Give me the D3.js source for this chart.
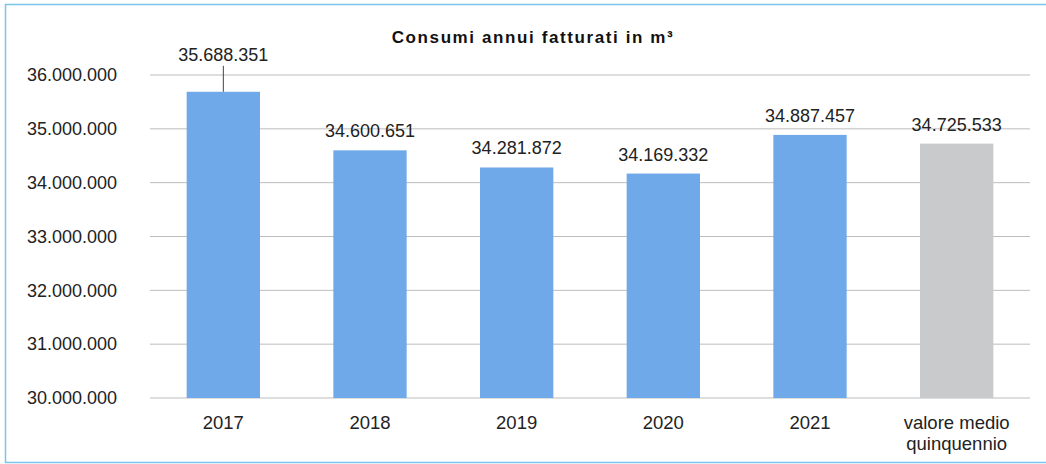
<!DOCTYPE html>
<html><head><meta charset="utf-8">
<script src="https://cdn.jsdelivr.net/npm/d3@7"></script>
<style>html,body{margin:0;padding:0;background:#fff;}svg{display:block;}</style>
</head><body>
<svg id="c" width="1046" height="464"></svg>
<script>
const categories = ["2017","2018","2019","2020","2021","valore medio\nquinquennio"];
const values = [35688351, 34600651, 34281872, 34169332, 34887457, 34725533];
const valueLabels = ["35.688.351","34.600.651","34.281.872","34.169.332","34.887.457","34.725.533"];
const yTicks = [30000000,31000000,32000000,33000000,34000000,35000000,36000000];
const title = "Consumi annui fatturati in m³";

const svg = d3.select("#c");
const font = "Liberation Sans, Arial, sans-serif";
svg.append("rect").attr("x",5.5).attr("y",4.5).attr("width",1050).attr("height",458)
  .attr("fill","none").attr("stroke","#7cc4e8").attr("stroke-width",1.5);

const x = d3.scaleBand().domain(categories).range([150,1030]).paddingInner(0.5).paddingOuter(0.25);
const y = d3.scaleLinear().domain([30000000,36000000]).range([398,75]);

const fmt = d => d3.format(",")(d).replace(/,/g,".");
// gridlines
svg.append("g").selectAll("line").data(yTicks).join("line")
  .attr("x1",150).attr("x2",1030).attr("y1",d=>y(d)).attr("y2",d=>y(d))
  .attr("stroke","#bdbdbd").attr("stroke-width",1);
// y labels
svg.append("g").selectAll("text").data(yTicks).join("text")
  .attr("x",117).attr("y",d=>y(d)).attr("dy","0.35em").attr("text-anchor","end")
  .attr("font-family",font).attr("font-size",18).attr("fill","#222").text(fmt);
// bars
svg.append("g").selectAll("rect").data(values).join("rect")
  .attr("x",(d,i)=>x(categories[i])).attr("width",x.bandwidth())
  .attr("y",d=>y(d)).attr("height",d=>y(30000000)-y(d))
  .attr("fill",(d,i)=> i===5 ? "#c9cacc" : "#70a9ea");
// value labels
svg.append("g").selectAll("text").data(values).join("text")
  .attr("x",(d,i)=>x(categories[i])+x.bandwidth()/2)
  .attr("y",(d,i)=> i===0 ? y(d)-31 : y(d)-13)
  .attr("text-anchor","middle").attr("font-family",font).attr("font-size",18).attr("fill","#222")
  .text((d,i)=>valueLabels[i]);
// leader line for first
svg.append("line").attr("x1",x(categories[0])+x.bandwidth()/2).attr("x2",x(categories[0])+x.bandwidth()/2)
  .attr("y1",y(values[0])-26).attr("y2",y(values[0])).attr("stroke","#444").attr("stroke-width",1);
// category labels
const cl = svg.append("g").selectAll("text").data(categories).join("text")
  .attr("x",d=>x(d)+x.bandwidth()/2).attr("y",429).attr("text-anchor","middle")
  .attr("font-family",font).attr("font-size",18.5).attr("fill","#222");
cl.each(function(d){
  const lines = d.split("\n");
  d3.select(this).selectAll("tspan").data(lines).join("tspan")
    .attr("x",x(d)+x.bandwidth()/2).attr("dy",(l,i)=>i===0?0:21).text(l=>l);
});
svg.append("text").attr("x",533).attr("y",43).attr("text-anchor","middle")
  .attr("font-family",font).attr("font-size",17).attr("letter-spacing",1.6).attr("font-weight","bold").attr("fill","#111").text(title);
</script>
</body></html>
